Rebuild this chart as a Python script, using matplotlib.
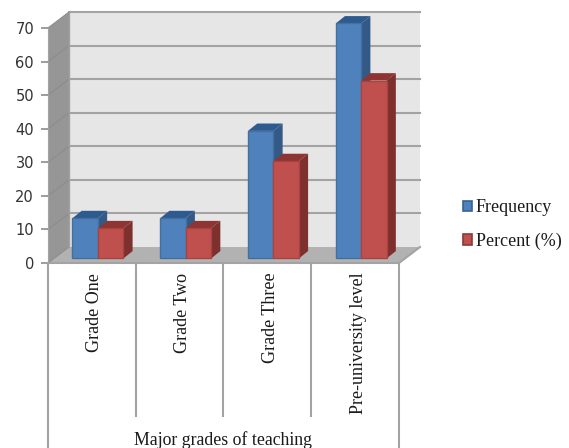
import matplotlib
matplotlib.use("Agg")
import matplotlib.pyplot as plt
from matplotlib.patches import Polygon, Patch
from matplotlib.transforms import ScaledTranslation

# Data
categories = ["Grade One", "Grade Two", "Grade Three", "Pre-university level"]
frequency = [12, 12, 38, 70]
percent = [9, 9, 29, 53]
y_ticks = [0, 10, 20, 30, 40, 50, 60, 70]

# Fake 3D depth, in data units
wall_dx, wall_dy = 0.239, 4.76
base_dx, base_dy = 0.069, 1.35
side_dx, side_dy = 0.105, 2.2
bar_w = 0.29

GRID = "#a3a3a3"


def poly(ax, pts, color, edge="none", z=1, lw=0.8):
    ax.add_patch(Polygon(pts, closed=True, facecolor=color, edgecolor=edge,
                         linewidth=lw, zorder=z, clip_on=False))


def bar_3d(ax, x, value, front, edge, side, top, z):
    y0 = base_dy
    y1 = base_dy + value
    ax.bar(x, value, bar_w, bottom=y0, align="edge", color=front, edgecolor=edge,
           linewidth=1.0, zorder=z + 1, clip_on=False)
    poly(ax, [(x + bar_w, y0), (x + bar_w + side_dx, y0 + side_dy),
              (x + bar_w + side_dx, y1 + side_dy), (x + bar_w, y1)], side, z=z)
    poly(ax, [(x, y1), (x + side_dx, y1 + side_dy),
              (x + bar_w + side_dx, y1 + side_dy), (x + bar_w, y1)], top, z=z)


plt.rcParams["font.family"] = "Liberation Serif"
fig = plt.figure(figsize=(5.69, 4.48), dpi=100)
ax = fig.add_axes([48 / 569, 185 / 448, 351 / 569, 235 / 448])
ax.set_xlim(0, 4)
ax.set_ylim(0, 70)

# Walls and floor
poly(ax, [(wall_dx, wall_dy), (4 + wall_dx, wall_dy),
          (4 + wall_dx, 70 + wall_dy), (wall_dx, 70 + wall_dy)], "#e6e6e6", z=1)
poly(ax, [(0, 0), (wall_dx, wall_dy), (wall_dx, 70 + wall_dy), (0, 70)], "#969696", z=1)
poly(ax, [(0, 0), (4, 0), (4 + wall_dx, wall_dy), (wall_dx, wall_dy)], "#b2b2b2", z=2)

for v in y_ticks:
    if v > 0:
        ax.plot([wall_dx, 4 + wall_dx], [v + wall_dy, v + wall_dy], color=GRID, lw=1.5,
                zorder=2, clip_on=False)
    ax.plot([0, wall_dx], [v, v + wall_dy], color="#8c8c8c", lw=0.8, zorder=2, clip_on=False)
ax.plot([wall_dx, wall_dx], [wall_dy, 70 + wall_dy], color="#a0a0a0", lw=1, zorder=2, clip_on=False)
ax.plot([0, 4, 4 + wall_dx], [0, 0, wall_dy], color=GRID, lw=1.5, zorder=3, clip_on=False)

# Bars
for i in range(len(categories)):
    x = i + 0.5 - bar_w + base_dx
    bar_3d(ax, x, frequency[i], "#4f81bd", "#42709f", "#335a87", "#2f5a8f", 4)
    bar_3d(ax, x + bar_w, percent[i], "#c0504d", "#a8433f", "#7d302e", "#8c3533", 6)

# Category table below the floor
for i in range(1, 4):
    ax.plot([i, i], [0, -45.6], color=GRID, lw=1.5, clip_on=False, zorder=3)
for i in (0, 4):
    ax.plot([i, i], [0, -56], color=GRID, lw=1.5, clip_on=False, zorder=3)

ax.set_xticks([i + 0.535 for i in range(len(categories))])
ax.set_xticklabels(categories, rotation=90, fontsize=13, color="#1a1a1a", va="top")
ax.tick_params(axis="x", length=0, pad=7)
ax.set_yticks(y_ticks)
ax.set_yticklabels(y_ticks, fontsize=10.5, family="DejaVu Sans", color="#333333")
# nudge the value labels a little below their ticks
nudge = ScaledTranslation(0, -1.5 / 72, fig.dpi_scale_trans)
for lab in ax.get_yticklabels():
    lab.set_transform(lab.get_transform() + nudge)
ax.tick_params(axis="y", length=5, width=1.2, color="#8c8c8c", pad=5)
for name, spine in ax.spines.items():
    spine.set_visible(name == "left")
ax.spines["left"].set_color(GRID)
ax.spines["left"].set_zorder(3)
ax.set_xlabel("Major grades of teaching", fontsize=12.8, color="#1a1a1a")
ax.xaxis.set_label_coords(0.5, -0.715)

handles = [Patch(facecolor="#4f81bd", edgecolor="#386192", linewidth=1.2, label="Frequency"),
           Patch(facecolor="#c0504d", edgecolor="#8c3836", linewidth=1.2, label="Percent (%)")]
fig.legend(handles=handles, loc="center left", bbox_to_anchor=(463 / 569, 1 - 224.5 / 448),
           frameon=False, fontsize=13, handlelength=0.5, handleheight=0.55,
           handletextpad=0.2, labelspacing=0.88, labelcolor="#1a1a1a",
           borderpad=0, borderaxespad=0)

plt.savefig("out.png", dpi=100)
plt.close()
